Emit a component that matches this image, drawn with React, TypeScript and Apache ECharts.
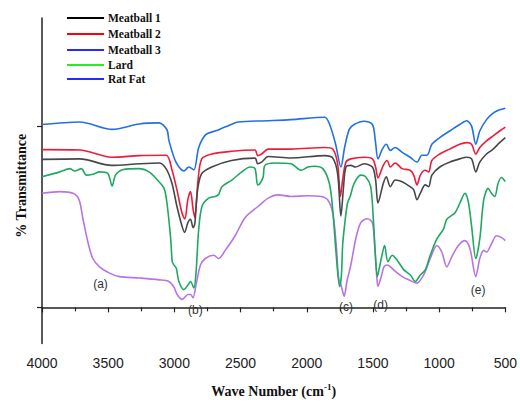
import React, { useEffect, useRef } from "react";
import * as echarts from "echarts";

const seriesNames = ["Meatball 1", "Meatball 2", "Meatball 3", "Lard", "Rat Fat"];
const lineColors = ["#474747", "#ee1c3a", "#2270e4", "#1ea862", "#b874e6"];
const legendColors = ["#000000", "#ff0000", "#2a2aff", "#22ee22", "#2a2aff"];

const xTicks = [4000, 3500, 3000, 2500, 2000, 1500, 1000, 500];

const meatball1 = [[4000,81.8],[3715,82.1],[3475,78.5],[3266,79.4],[3116,79.8],[3063,76.7],[3018,68.5],[2981,55.9],[2943,45.1],[2923,41.4],[2898,46.8],[2878,48.7],[2859,44.1],[2846,46.0],[2836,55.9],[2821,66.7],[2793,74.0],[2718,77.6],[2569,81.2],[2391,82.5],[2371,79.4],[2341,80.3],[2291,83.4],[2119,82.6],[1864,83.9],[1804,82.6],[1767,74.0],[1742,50.5],[1722,66.7],[1704,77.6],[1667,78.5],[1632,77.6],[1567,79.4],[1504,77.6],[1480,70.5],[1462,57.7],[1422,68.5],[1399,72.2],[1369,66.7],[1332,70.4],[1279,69.5],[1219,66.7],[1192,65.0],[1167,59.5],[1142,63.1],[1105,67.7],[1079,66.7],[1055,73.1],[995,77.6],[920,80.3],[845,82.1],[792,83.0],[755,82.1],[723,74.9],[693,80.3],[642,84.8],[592,87.5],[543,91.1],[500,93.9]];

const meatball2 = [[4000,87.2],[3715,87.0],[3475,83.0],[3266,83.9],[3063,84.1],[3018,76.0],[2981,65.1],[2943,52.3],[2921,48.9],[2898,59.7],[2878,64.0],[2859,54.3],[2846,49.6],[2821,70.5],[2793,82.1],[2718,84.8],[2569,86.3],[2391,87.0],[2371,83.9],[2341,84.8],[2291,87.5],[2119,87.5],[1864,88.4],[1804,87.5],[1767,79.4],[1746,61.3],[1729,70.5],[1704,80.3],[1667,82.1],[1567,83.0],[1504,82.1],[1480,77.6],[1462,71.6],[1422,78.5],[1392,81.2],[1369,77.6],[1332,79.8],[1279,76.7],[1219,75.8],[1192,73.1],[1167,67.7],[1142,73.1],[1105,75.8],[1079,74.9],[1055,81.2],[995,84.8],[920,87.5],[845,90.2],[792,91.1],[755,90.2],[723,84.8],[693,88.4],[642,92.1],[592,94.8],[543,97.5],[500,99.7]];

const meatball3 = [[4000,101.1],[3715,102.5],[3470,98.4],[3266,101.4],[3116,102.0],[3056,98.2],[3041,92.2],[2988,80.3],[2928,75.4],[2891,77.6],[2853,76.0],[2816,88.4],[2763,95.5],[2688,97.6],[2613,99.8],[2516,102.5],[2291,103.2],[2119,103.8],[1864,105.1],[1827,101.1],[1782,90.2],[1742,77.6],[1714,88.4],[1679,98.4],[1642,101.1],[1567,102.9],[1504,101.1],[1482,92.2],[1462,82.1],[1429,87.5],[1399,90.2],[1369,86.8],[1332,88.4],[1279,85.7],[1219,83.0],[1167,80.3],[1130,84.1],[1092,84.1],[1055,90.2],[995,93.9],[920,97.5],[845,101.1],[792,103.2],[755,100.2],[723,90.2],[693,97.5],[642,103.8],[592,107.4],[543,109.2],[500,110.1]];

const lard = [[4000,72.2],[3865,74.9],[3790,76.7],[3753,75.4],[3702,76.7],[3665,73.1],[3616,73.6],[3565,74.9],[3503,74.0],[3470,67.1],[3445,73.1],[3391,76.1],[3266,76.7],[3191,74.9],[3128,70.4],[3078,65.8],[3056,57.7],[3028,38.0],[3016,25.2],[3003,23.4],[2986,21.7],[2966,14.3],[2928,9.8],[2896,12.5],[2878,14.3],[2853,10.7],[2836,19.7],[2816,43.3],[2791,55.9],[2741,60.4],[2691,61.3],[2666,62.4],[2641,66.7],[2566,70.4],[2491,74.9],[2428,77.6],[2391,76.7],[2371,67.7],[2353,68.5],[2329,72.2],[2316,78.5],[2241,79.8],[2119,79.4],[2042,75.8],[1991,77.6],[1941,78.0],[1879,76.7],[1829,68.5],[1804,54.1],[1779,30.6],[1752,11.5],[1738,17.9],[1729,34.2],[1712,46.8],[1692,57.7],[1672,61.3],[1642,68.5],[1592,73.1],[1555,72.2],[1517,66.7],[1497,48.7],[1480,27.0],[1467,17.0],[1447,23.4],[1437,27.0],[1412,34.2],[1387,25.2],[1354,28.8],[1317,26.1],[1266,20.7],[1217,17.9],[1180,14.3],[1142,17.9],[1105,20.7],[1067,28.8],[1017,37.8],[967,43.3],[942,48.7],[880,52.3],[843,57.7],[805,63.1],[780,58.6],[755,45.1],[723,27.0],[693,37.8],[663,59.5],[630,65.8],[605,63.1],[580,61.3],[555,68.5],[530,71.8],[500,69.5]];

const ratFat = [[4000,63.1],[3865,64.0],[3765,63.1],[3720,59.5],[3690,48.7],[3653,36.0],[3616,27.0],[3565,22.4],[3490,18.9],[3415,17.0],[3266,16.2],[3116,15.2],[3041,14.3],[3003,11.1],[2979,7.1],[2941,4.4],[2896,7.1],[2878,7.1],[2859,5.3],[2836,12.5],[2803,23.4],[2766,27.0],[2703,28.8],[2666,27.0],[2616,31.5],[2541,39.6],[2466,49.6],[2366,55.9],[2291,60.4],[2216,62.2],[2119,61.3],[1991,61.7],[1892,61.3],[1842,59.5],[1804,52.3],[1779,36.0],[1759,16.2],[1742,12.5],[1717,6.2],[1697,14.3],[1667,23.4],[1630,37.8],[1592,46.8],[1542,49.0],[1504,46.8],[1487,34.2],[1472,17.9],[1462,11.6],[1437,17.0],[1417,22.4],[1392,23.4],[1367,22.4],[1329,19.7],[1279,17.0],[1229,15.2],[1167,13.4],[1117,17.9],[1067,27.0],[1017,34.2],[980,30.6],[942,22.4],[905,27.9],[855,34.2],[805,36.9],[767,32.4],[723,17.0],[693,27.0],[663,31.5],[642,30.6],[605,35.1],[567,39.6],[530,38.7],[500,36.9]];

const peakLabels = ["(a)", "(b)", "(c)", "(d)", "(e)"];
const peakCoords = [[3558,13.1],[2841,-1.5],[1704,0.3],[1442,1.5],[705,9.8]];

const seriesData = [meatball1, meatball2, meatball3, lard, ratFat];
const legendRowsY = [18, 34, 50, 65, 79];

export default function App() {
  const ref = useRef<HTMLDivElement>(null);
  useEffect(() => {
    document.body.style.margin = "0";
    const chart = echarts.init(ref.current!, null, { renderer: "svg" });
    const legendGraphics: any[] = [];
    seriesNames.forEach((name, i) => {
      legendGraphics.push({
        type: "line",
        shape: { x1: 67, y1: legendRowsY[i], x2: 104, y2: legendRowsY[i] },
        style: { stroke: legendColors[i], lineWidth: 2 },
      });
      legendGraphics.push({
        type: "text",
        x: 108,
        y: legendRowsY[i],
        style: {
          text: name,
          fill: "#111",
          font: 'bold 11.5px "Liberation Serif"',
          verticalAlign: "middle",
          align: "left",
        },
      });
    });
    chart.setOption({
      animation: false,
      backgroundColor: "#ffffff",
      grid: { left: 42, right: 11, top: 18, bottom: 53 },
      xAxis: {
        type: "value",
        inverse: true,
        min: 500,
        max: 4000,
        interval: 500,
        name: "{t|Wave Number (cm}{s|-1}{t|)}",
        nameLocation: "middle",
        nameGap: 39,
        nameTextStyle: {
          rich: {
            t: { fontFamily: "Liberation Serif", fontWeight: "bold", fontSize: 14, color: "#111" },
            s: { fontFamily: "Liberation Serif", fontWeight: "bold", fontSize: 9, color: "#111", verticalAlign: "top", padding: [0, 0, 8, 0] },
          },
        },
        axisLine: { show: true, lineStyle: { color: "#222", width: 1.5 } },
        axisTick: { show: true, length: 5, lineStyle: { color: "#222", width: 1.2 } },
        minorTick: { show: true, splitNumber: 2, length: 4, lineStyle: { color: "#222", width: 1.2 } },
        splitLine: { show: false },
        minorSplitLine: { show: false },
        axisLabel: {
          margin: 12,
          fontFamily: "Liberation Sans",
          fontSize: 14,
          color: "#222",
          showMinLabel: true,
          showMaxLabel: true,
          customValues: xTicks,
          formatter: (v: number) => String(v),
        },
      },
      yAxis: {
        type: "value",
        min: -20,
        max: 160,
        interval: 20,
        name: "% Transmittance",
        nameLocation: "middle",
        nameGap: 14,
        nameTextStyle: {
          fontFamily: "Liberation Serif",
          fontWeight: "bold",
          fontSize: 14,
          color: "#111",
          padding: [0, 10, 0, 0],
        },
        axisLine: { show: true, lineStyle: { color: "#222", width: 1.5 } },
        axisTick: { show: true, length: 5, customValues: [0, 100], lineStyle: { color: "#222", width: 1.2 } },
        axisLabel: { show: false },
        splitLine: { show: false },
      },
      series: seriesNames.map((name, i) => ({
        name,
        type: "line",
        data: seriesData[i],
        showSymbol: false,
        smooth: 0.3,
        lineStyle: { color: lineColors[i], width: 1.6 },
        itemStyle: { color: lineColors[i] },
        z: 10 - i,
        markPoint:
          i === 4
            ? {
                symbol: "circle",
                symbolSize: 1,
                itemStyle: { color: "rgba(0,0,0,0)" },
                label: {
                  show: true,
                  position: "inside",
                  fontFamily: "Liberation Sans",
                  fontSize: 12,
                  color: "#333",
                  formatter: (p: any) => p.name,
                },
                data: peakLabels.map((lab, k) => ({ name: lab, coord: peakCoords[k] })),
              }
            : undefined,
      })),
      graphic: legendGraphics,
    });
    return () => chart.dispose();
  }, []);
  return <div ref={ref} style={{ width: 520, height: 403 }} />;
}
